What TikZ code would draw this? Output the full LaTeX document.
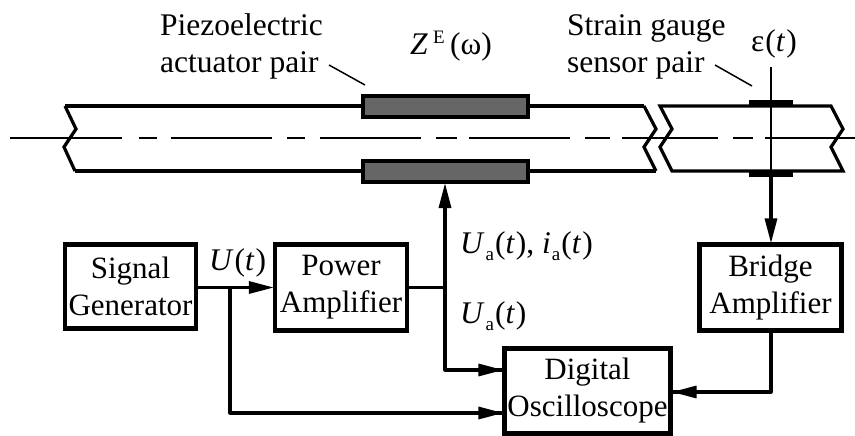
\documentclass[tikz,border=0pt]{standalone}
\usepackage{fontspec}
\setmainfont{Liberation Serif}
\usetikzlibrary{arrows.meta}
\newcommand{\lowa}{{\fontsize{19}{19}\selectfont\raisebox{-7pt}{\kern1pt a\kern1pt}}}
\tikzset{
  blockbox/.style={draw=black,line width=4.2pt,fill=white,inner sep=0pt,align=center,font=\fontsize{31}{37}\selectfont},
  lbl/.style={inner sep=0pt,font=\fontsize{31.5}{37}\selectfont},
  piezo/.style={draw=black,line width=4pt,fill=black!60,inner sep=0pt},
  gauge/.style={draw=none,fill=black,inner sep=0pt,minimum width=44pt,minimum height=6pt},
  beam/.style={line width=3.2pt,line join=miter},
  axis/.style={line width=1.6pt},
  wire/.style={line width=3.2pt},
  arrowwire/.style={wire,-{Triangle[length=25pt,width=12pt]},shorten >=-1pt},
  leader/.style={line width=1.5pt}
}
\begin{document}
\begin{tikzpicture}[x=1pt,y=-1pt]
\useasboundingbox (0,0) rectangle (855,436);
% axis
\foreach \a/\b in {10/122,139/157,171/272,287/305,320/421,436/457,469/570,585/610,622/718,733/753,765/855}
  \draw[axis] (\a,138) -- (\b,138);
% beam
\draw[beam] (644,106) -- (656,129) -- (644,147) -- (656,171);
\draw[beam] (65,106) -- (76,129) -- (64,147) -- (75,171);
\draw[beam] (65,106) -- (644,106);
\draw[beam] (75,171) -- (656,171);
\draw[beam] (660,106) -- (672,129) -- (660,147) -- (672,171) -- (843,171) -- (831,147) -- (843,129) -- (831,106) -- cycle;
% actuators and gauges
\node[piezo,minimum width=165pt,minimum height=21pt] (actT) at (445.5,106.5) {};
\node[piezo,minimum width=165pt,minimum height=21pt] (actB) at (445.5,171.5) {};
\node[gauge] (gT) at (771,103) {};
\node[gauge] (gB) at (771,174) {};
% blocks
\node[blockbox,minimum width=131pt,minimum height=84pt] (sg) at (130.5,286.5) {Signal\\Generator};
\node[blockbox,minimum width=132pt,minimum height=86pt] (pa) at (341,287.5) {Power\\Amplifier};
\node[blockbox,minimum width=142pt,minimum height=86pt] (ba) at (770.5,287.5) {Bridge\\Amplifier};
\node[blockbox,minimum width=166pt,minimum height=85pt] (do) at (587.5,391) {Digital\\Oscilloscope};
% text
\node[lbl,anchor=base west] (t1) at (160,36) {Piezoelectric};
\node[lbl,anchor=base west] (t2) at (160,73) {actuator pair};
\node[lbl,anchor=base west] (t3) at (567,36) {Strain gauge};
\node[lbl,anchor=base west] (t4) at (567,73) {sensor pair};
\node[lbl,anchor=base west] (z) at (410,55) {\textit{Z}\,\raisebox{11pt}{\fontsize{19}{19}\selectfont E}\,(ω)};
\node[lbl,anchor=base west] (eps) at (751,52) {ε\kern1pt(\textit{t}\kern1pt)};
\node[lbl,anchor=base west] (u) at (209,270) {\textit{U}\kern1pt(\textit{t}\kern1pt)};
\node[lbl,anchor=base west] (ui) at (460,253) {\textit{U}\lowa(\textit{t}\kern1pt), \textit{i}\lowa(\textit{t}\kern1pt)};
\node[lbl,anchor=base west] (ua) at (460,323) {\textit{U}\lowa(\textit{t}\kern1pt)};
% leaders
\coordinate (l1a) at (329,65); \coordinate (l1b) at (365,85);
\coordinate (l2a) at (715,65); \coordinate (l2b) at (752,86);
\draw[leader] (l1a) -- (l1b);
\draw[leader] (l2a) -- (l2b);
% wires
\coordinate (j1) at (230,287.5);
\coordinate (j2) at (445,287.5);
\coordinate (c1) at (445,370);
\coordinate (c2) at (230,413);
\coordinate (c3) at (771,392);
\coordinate (top) at (771,67);
\draw[arrowwire] (sg.east |- j1) -- (pa.west |- j1);
\draw[wire,line join=round] (j1) -- (c2) -- (c2 -| do.west);
\draw[arrowwire] (c2) -- (c2 -| do.west);
\draw[wire] (pa.east |- j2) -- (j2);
\draw[arrowwire] (j2) -- (j2 |- actB.south);
\draw[wire,line join=round] (j2) -- (c1) -- (c1 -| do.west);
\draw[arrowwire] (c1) -- (c1 -| do.west);
\draw[wire,line join=round] (ba.south -| c3) -- (c3) -- (c3 -| do.east);
\draw[arrowwire] (c3) -- (c3 -| do.east);
\draw[axis] (top) -- (gB.center);
\draw[arrowwire] (gB.south -| top) -- (ba.north -| top);
\end{tikzpicture}
\end{document}
